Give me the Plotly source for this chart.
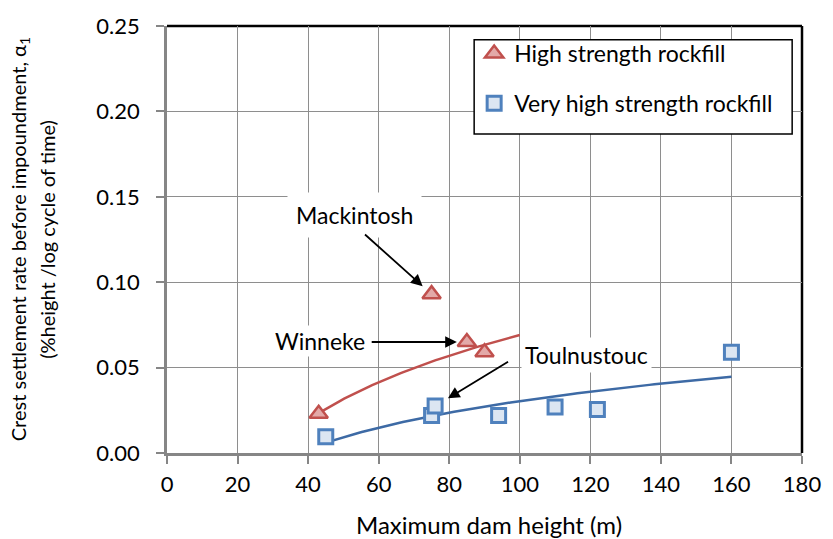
import numpy as np
import plotly.graph_objects as go

# Maximum dam height (m) and crest settlement rate before impoundment
high_x = [43, 75, 85, 90]
high_y = [0.023, 0.093, 0.065, 0.059]
high_names = ["", "Mackintosh", "Winneke", ""]

vhigh_x = [45, 75, 76, 94, 110, 122, 160]
vhigh_y = [0.0095, 0.022, 0.0275, 0.022, 0.027, 0.0255, 0.059]

x_ticks = [0, 20, 40, 60, 80, 100, 120, 140, 160, 180]
y_ticks = [0.00, 0.05, 0.10, 0.15, 0.20, 0.25]

FONT = "Lato"
RED = "#c0504d"
RED_FILL = "#e3a9a8"
BLUE = "#4f81bd"
BLUE_FILL = "#dce6f2"
BLUE_LINE = "#3d6aa5"
GRID = "#8e8e8e"
AXIS = "#868686"


def log_trend(xs, ys, x_end):
    """Logarithmic least-squares trend y = a ln(x) + b, sampled from min(xs) to x_end."""
    a, b = np.polyfit(np.log(xs), ys, 1)
    xt = np.linspace(min(xs), x_end, 80)
    return xt, a * np.log(xt) + b


# Mackintosh is treated as an outlier for the high strength trend
hx = [x for x, n in zip(high_x, high_names) if n != "Mackintosh"]
hy = [y for y, n in zip(high_y, high_names) if n != "Mackintosh"]
red_tx, red_ty = log_trend(hx, hy, 100)
blue_tx, blue_ty = log_trend(vhigh_x, vhigh_y, max(vhigh_x))

fig = go.Figure()
fig.add_trace(go.Scatter(x=red_tx, y=red_ty, mode="lines",
                         line=dict(color=RED, width=2.5), showlegend=False,
                         hoverinfo="skip"))
fig.add_trace(go.Scatter(x=blue_tx, y=blue_ty, mode="lines",
                         line=dict(color=BLUE_LINE, width=2.5), showlegend=False,
                         hoverinfo="skip"))
fig.add_trace(go.Scatter(x=high_x, y=high_y, mode="markers",
                         name="High strength rockfill", legendgroup="a",
                         marker=dict(symbol="triangle-up", size=16, color=RED_FILL,
                                     line=dict(color=RED, width=2.5))))
fig.add_trace(go.Scatter(x=vhigh_x, y=vhigh_y, mode="markers",
                         name="Very high strength rockfill", legendgroup="b",
                         marker=dict(symbol="square", size=14, color=BLUE_FILL,
                                     line=dict(color=BLUE, width=3))))

axis_common = dict(showgrid=True, gridcolor=GRID, gridwidth=1.3,
                   showline=True, linecolor=AXIS, linewidth=2.5,
                   ticks="outside", ticklen=8, tickcolor=AXIS, tickwidth=1.5,
                   zeroline=False, tickfont=dict(family=FONT, size=22, color="black"))

fig.update_xaxes(range=[0, 180], tickvals=x_ticks, ticklabelstandoff=2, **axis_common)
fig.update_yaxes(range=[0, 0.25], tickvals=y_ticks, tickformat=".2f",
                 ticklabelstandoff=12, **axis_common)

shapes = [
    # dark frame on the top and right of the plot area
    dict(type="line", xref="paper", yref="paper", x0=0, x1=1, y0=1, y1=1,
         line=dict(color="black", width=2.5), layer="below"),
    dict(type="line", xref="paper", yref="paper", x0=1, x1=1, y0=0, y1=1,
         line=dict(color="black", width=2.5), layer="below"),
    # legend box
    dict(type="rect", xref="paper", yref="paper", x0=0.4837, x1=0.9845,
         y0=0.747, y1=0.968, fillcolor="white", line=dict(color="black", width=1.5),
         layer="above"),
]

annotations = [
    # axis titles
    dict(text="Maximum dam height (m)", xref="paper", yref="paper", x=0.507, y=-0.167,
         showarrow=False, font=dict(family=FONT, size=24, color="black"),
         xanchor="center", yanchor="middle"),
    dict(text="Crest settlement rate before impoundment, α<sub>1</sub>",
         xref="paper", yref="paper", x=-0.232, y=0.5, textangle=-90,
         showarrow=False, font=dict(family=FONT, size=20, color="black"),
         xanchor="center", yanchor="middle"),
    dict(text="(%height /log cycle of time)",
         xref="paper", yref="paper", x=-0.19, y=0.5, textangle=-90,
         showarrow=False, font=dict(family=FONT, size=20, color="black"),
         xanchor="center", yanchor="middle"),
    # dam labels
    dict(text="Mackintosh", x=53.1, y=0.1396, showarrow=False, bgcolor="white",
         borderpad=8, font=dict(family=FONT, size=23, color="black")),
    dict(text="Winneke", x=43.5, y=0.0654, showarrow=False, bgcolor="white",
         borderpad=1, font=dict(family=FONT, size=23, color="black")),
    dict(text="Toulnustouc", x=119.0, y=0.0574, showarrow=False, bgcolor="white",
         borderpad=3, font=dict(family=FONT, size=23, color="black")),
    # arrows to the labelled dams
    dict(text="", x=high_x[1], y=high_y[1], ax=55.7, ay=0.1287, axref="x", ayref="y",
         showarrow=True, arrowhead=2, arrowsize=1.3, arrowwidth=1.8, arrowcolor="black",
         standoff=12),
    dict(text="", x=high_x[2], y=high_y[2], ax=57.6, ay=high_y[2], axref="x", ayref="y",
         showarrow=True, arrowhead=2, arrowsize=1.3, arrowwidth=1.8, arrowcolor="black",
         standoff=10),
    dict(text="", x=vhigh_x[2], y=vhigh_y[2], ax=97.1, ay=0.054, axref="x", ayref="y",
         showarrow=True, arrowhead=2, arrowsize=1.3, arrowwidth=1.8, arrowcolor="black",
         standoff=15),
]

fig.update_layout(
    width=833, height=539,
    margin=dict(l=167, r=23, t=15, b=86),
    paper_bgcolor="white", plot_bgcolor="white",
    font=dict(family=FONT, color="black"),
    shapes=shapes, annotations=annotations,
    legend=dict(x=0.4837, y=0.986, xanchor="left", yanchor="top",
                bgcolor="rgba(0,0,0,0)", borderwidth=0, tracegroupgap=17,
                font=dict(family=FONT, size=23, color="black")),
)

fig.write_html("out.html")
